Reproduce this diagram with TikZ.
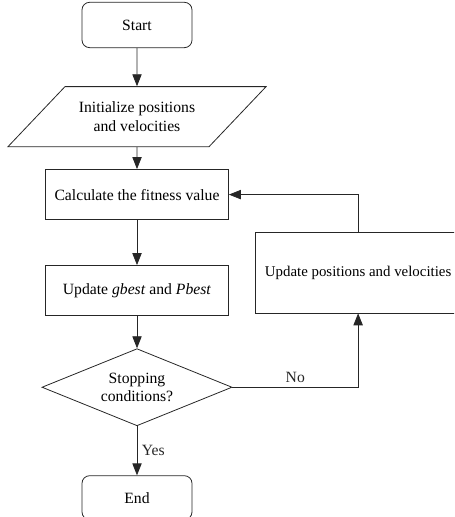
\documentclass[tikz,border=0pt]{standalone}
\usepackage{fontspec}
\setmainfont{Liberation Serif}
\usepackage{tikz}
\usetikzlibrary{positioning, shapes.geometric, arrows.meta}

\begin{document}
\begin{tikzpicture}[
        node distance=1cm,
        font=\fontsize{11.8}{14}\selectfont,
        terminal/.style={rectangle, draw=black!85, line width=0.6pt, rounded corners=0.2cm, minimum width=2.91cm, minimum height=1.2cm, align=center},
        process/.style={rectangle, draw=black!85, line width=0.6pt, minimum width=4.84cm, minimum height=1.33cm, align=center},
        io/.style={trapezium, trapezium left angle=34, trapezium right angle=146, trapezium stretches body=true, draw=black!85, line width=0.6pt, minimum width=6.83cm, minimum height=1.59cm, align=center, inner xsep=0pt},
        decision/.style={diamond, draw=black!85, line width=0.6pt, aspect=2.5, inner sep=0pt, minimum width=5.03cm, minimum height=2.04cm, align=center},
        arr/.style={-{Triangle[length=9pt, width=7pt]}, line width=0.6pt, black!85}
    ]
    % MARGENES DE LA FIGURA
    \clip (-3.625,0.661) rectangle (8.388,-13.018);

    % COLUMNA PRINCIPAL
    \node[terminal] (start) {Start};
    \node[io, below=1.01cm of start] (init) {Initialize positions\\and velocities};
    \node[process, below=0.58cm of init] (fitness) {Calculate the fitness value};
    \node[process, below=1.19cm of fitness] (best) {Update \textit{gbest} and \textit{Pbest}};
    \node[decision, below=0.85cm of best] (stop) {Stopping\\conditions?};
    \node[terminal, below=1.3cm of stop, minimum height=1.16cm] (end) {End};

    % BUCLE DE ACTUALIZACION
    \node[process, minimum width=5.45cm, minimum height=2.14cm, font=\fontsize{11.2}{14}\selectfont] (move) at ([xshift=5.85cm, yshift=0.48cm]best.center) {Update positions and velocities};

    % Flechas de conexion
    \draw[arr] (start) -- (init);
    \draw[arr] (init) -- (fitness);
    \draw[arr] (fitness) -- (best);
    \draw[arr] (best) -- (stop);
    \draw[arr] (stop) -- node[right] {Yes} (end);
    \draw[arr] (stop.east) -- node[above] {No} (stop.east -| move.south) -- (move.south);
    \draw[arr] (move.north) |- (fitness.east);
\end{tikzpicture}
\end{document}
